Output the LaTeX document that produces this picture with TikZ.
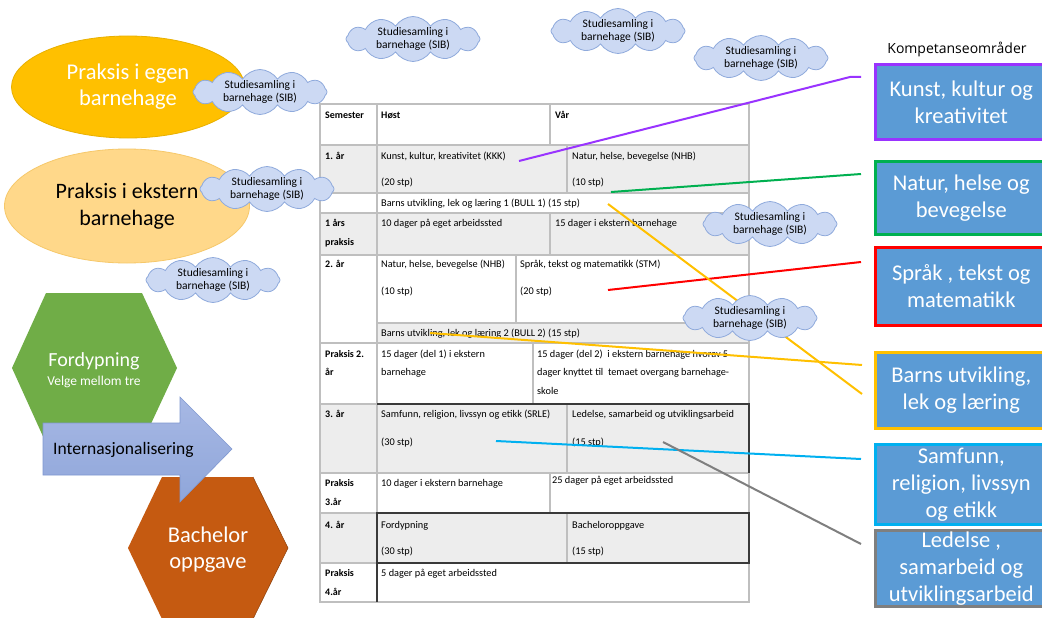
\documentclass[tikz,border=0pt]{standalone}
\usepackage{fontspec}
\setmainfont{Carlito}
\newfontfamily\kompfont{Open Sans}
\usetikzlibrary{shapes.geometric,shapes.symbols}

\definecolor{cellgray}{HTML}{EDEDED}
\definecolor{gridgray}{HTML}{BFBFBF}
\definecolor{griddark}{HTML}{3A3A3A}
\definecolor{boxblue}{HTML}{5B9BD5}
\definecolor{kpurple}{HTML}{9933FF}
\definecolor{kgreen}{HTML}{00B050}
\definecolor{kred}{HTML}{FF0000}
\definecolor{korange}{HTML}{FFC000}
\definecolor{kcyan}{HTML}{00B0F0}
\definecolor{kgray}{HTML}{7F7F7F}
\definecolor{egenfill}{HTML}{FFC000}
\definecolor{egendraw}{HTML}{E8B000}
\definecolor{eksternfill}{HTML}{FFD88A}
\definecolor{eksterndraw}{HTML}{F6C86A}
\definecolor{hexgreen}{HTML}{70AD47}
\definecolor{hexorange}{HTML}{C55A11}
\definecolor{arrowtop}{HTML}{A7B8E4}
\definecolor{arrowbot}{HTML}{8FA6DA}
\definecolor{arrowdraw}{HTML}{7F97D0}
\definecolor{cloudfill}{HTML}{CCD9F3}
\definecolor{clouddraw}{HTML}{8FAADC}

\begin{document}
\begin{tikzpicture}[x=1pt,y=-1pt,
  cell/.style={anchor=west,inner sep=0pt,text height=7.5pt,text depth=2.5pt,font=\fontsize{10.3}{12}\selectfont},
  bcell/.style={cell,font=\fontsize{10}{12}\selectfont\bfseries},
  grid/.style={draw=gridgray,line width=1.2pt},
  dgrid/.style={draw=griddark,line width=1.2pt},
  kbox/.style={draw,line width=2.6pt,fill=boxblue,text=white,align=center,font=\fontsize{22.5}{27}\selectfont},
  link/.style={line width=2pt},
  sib/.style={cloud,cloud puffs=12,cloud puff arc=115,aspect=3,minimum width=134pt,minimum height=45pt,inner sep=-3pt,
    fill=cloudfill,draw=clouddraw,line width=0.8pt,align=center,font=\fontsize{11.5}{13}\selectfont},
  hextext/.style={text=white,align=center,inner sep=0pt}
]
\useasboundingbox (0,0) rectangle (1042,618);
\fill[white] (0,0) rectangle (1042,618);

% ---------------- table backgrounds ----------------
\fill[cellgray] (320,145) rectangle (749,193);
\fill[cellgray] (320,213) rectangle (749,255);
\fill[cellgray] (377,323) rectangle (749,343);
\fill[cellgray] (320,404) rectangle (749,473);
\fill[cellgray] (320,513) rectangle (749,563);

% ---------------- table grid ----------------
\path[grid] (320,104) rectangle (749,602);
\foreach \yy in {145,193,213,255,343,404,473,513,563}
  \path[grid] (320,\yy) -- (749,\yy);
\path[grid] (377,323) -- (749,323);
\path[grid] (377,104) -- (377,602);
\path[grid] (550,104) -- (550,145);
\path[grid] (567,145) -- (567,193);
\path[grid] (550,213) -- (550,255);
\path[grid] (516,255) -- (516,323);
\path[grid] (533,343) -- (533,404);
\path[grid] (567,404) -- (567,473);
\path[grid] (550,473) -- (550,513);
\path[grid] (567,513) -- (567,563);
% dark frames
\path[dgrid] (377,404) -- (749,404) -- (749,473);
\path[dgrid] (377,513) rectangle (749,563);
\path[dgrid] (377,563) -- (377,602);

% ---------------- table texts ----------------
\node[bcell] (h0) at (325,116) {Semester};
\node[bcell] (h1) at (381,116) {Høst};
\node[bcell] (h2) at (555,116) {Vår};

\node[bcell] (r1) at (325,157) {1. år};
\node[cell] (r1a) at (381,157) {Kunst, kultur, kreativitet (KKK)};
\node[cell] (r1b) at (381,183) {(20 stp)};
\node[cell] (r1c) at (572,157) {Natur, helse, bevegelse (NHB)};
\node[cell] (r1d) at (572,183) {(10 stp)};
\node[cell] (r1e) at (381,204) {Barns utvikling, lek og læring 1 (BULL 1) (15 stp)};

\node[bcell] (p1) at (325,224) {1 års};
\node[bcell] (p1b) at (325,243) {praksis};
\node[cell] (p1c) at (381,224) {10 dager på eget arbeidssted};
\node[cell] (p1d) at (555,224) {15 dager i ekstern barnehage};

\node[bcell] (r2) at (325,265) {2. år};
\node[cell] (r2a) at (381,265) {Natur, helse, bevegelse (NHB)};
\node[cell] (r2b) at (381,292) {(10 stp)};
\node[cell] (r2c) at (520,265) {Språk, tekst og matematikk (STM)};
\node[cell] (r2d) at (520,292) {(20 stp)};
\node[cell] (r2e) at (381,334) {Barns utvikling, lek og læring 2 (BULL 2) (15 stp)};

\node[bcell] (p2) at (325,355) {Praksis 2.};
\node[bcell] (p2b) at (325,373) {år};
\node[cell] (p2c) at (381,355) {15 dager (del 1) i ekstern};
\node[cell] (p2d) at (381,373) {barnehage};
\node[cell] (p2e) at (537,355) {15 dager (del 2)\ \ i ekstern barnehage hvorav 5};
\node[cell] (p2f) at (537,373) {dager knyttet til\ \ temaet overgang barnehage-};
\node[cell] (p2g) at (537,392) {skole};

\node[bcell] (r3) at (325,415) {3. år};
\node[cell] (r3a) at (381,415) {Samfunn, religion, livssyn og etikk (SRLE)};
\node[cell] (r3b) at (381,443) {(30 stp)};
\node[cell] (r3c) at (572,415) {Ledelse, samarbeid og utviklingsarbeid};
\node[cell] (r3d) at (572,443) {(15 stp)};

\node[bcell] (p3) at (325,484) {Praksis};
\node[bcell] (p3b) at (325,503) {3.år};
\node[cell] (p3c) at (381,484) {10 dager i ekstern barnehage};
\node[cell] (p3d) at (552,481) {25 dager på eget arbeidssted};

\node[bcell] (r4) at (325,526) {4. år};
\node[cell] (r4a) at (381,526) {Fordypning};
\node[cell] (r4b) at (381,552) {(30 stp)};
\node[cell] (r4c) at (572,526) {Bacheloroppgave};
\node[cell] (r4d) at (572,552) {(15 stp)};

\node[bcell] (p4) at (325,574) {Praksis};
\node[bcell] (p4b) at (325,593) {4.år};
\node[cell] (p4c) at (381,574) {5 dager på eget arbeidssted};

% ---------------- competence boxes ----------------
\node[kbox,draw=kpurple,anchor=north west,minimum width=172pt,minimum height=75pt] (k1) at (874,63) {Kunst, kultur og\\kreativitet};
\node[kbox,draw=kgreen,anchor=north west,minimum width=172pt,minimum height=73pt] (k2) at (874,160) {Natur, helse og\\bevegelse};
\node[kbox,draw=kred,anchor=north west,minimum width=172pt,minimum height=78pt] (k3) at (874,246) {Språk , tekst og\\matematikk};
\node[kbox,draw=korange,anchor=north west,minimum width=172pt,minimum height=76pt] (k4) at (874,351) {Barns utvikling,\\lek og læring};
\node[kbox,draw=kcyan,anchor=north west,minimum width=172pt,minimum height=80pt,inner ysep=0pt] (k5) at (874,443) {Samfunn,\\religion, livssyn\\og etikk};
\node[kbox,draw=kgray,anchor=north west,minimum width=172pt,minimum height=76pt,inner ysep=0pt] (k6) at (874,529) {Ledelse ,\\samarbeid og\\utviklingsarbeid};
\node[inner sep=0pt,font=\kompfont\fontsize{14}{16}\selectfont] (komp) at (957,49) {Kompetanseområder};

% ---------------- connectors ----------------
\coordinate (s1) at (519,161); \coordinate (m1) at (850,77); \coordinate (e1) at (861,77);
\coordinate (s2) at (611,192); \coordinate (e2) at (861,174);
\coordinate (s3) at (608,290); \coordinate (e3) at (861,262);
\coordinate (s4) at (608,204); \coordinate (e4) at (862,394);
\coordinate (s5) at (430,333); \coordinate (e5) at (862,365);
\coordinate (s6) at (496,441); \coordinate (e6) at (861,459);
\coordinate (s7) at (663,442); \coordinate (e7) at (861,544);
\draw[link,kpurple] (s1) -- (m1) -- (e1);
\draw[link,kgreen] (s2) -- (e2);
\draw[link,kred] (s3) -- (e3);
\draw[link,korange] (s4) -- (e4);
\draw[link,korange] (s5) -- (e5);
\draw[link,kcyan] (s6) -- (e6);
\draw[link,kgray] (s7) -- (e7);

% ---------------- ellipses ----------------
\node[ellipse,fill=egenfill,draw=egendraw,line width=0.8pt,minimum width=233pt,minimum height=102pt,inner sep=0pt,
  text=white,align=center,font=\fontsize{22.5}{26}\selectfont] (egen) at (128,87) {Praksis i egen\\barnehage};
\node[ellipse,fill=eksternfill,draw=eksterndraw,line width=0.8pt,minimum width=245pt,minimum height=114pt,inner sep=0pt,
  align=center,font=\fontsize{22}{27}\selectfont] (ekst) at (127,206) {Praksis i ekstern\\barnehage};

% ---------------- hexagons and arrow ----------------
\fill[hexgreen] (12,368) -- (46,293) -- (142,293) -- (177,368) -- (142,443) -- (46,443) -- cycle;
\node[hextext,font=\fontsize{20}{22}\selectfont] (ford) at (94,361) {Fordypning};
\node[hextext,font=\fontsize{13.5}{15}\selectfont] (velg) at (94,382) {Velge mellom tre};

\fill[hexorange] (128,548) -- (162,477) -- (253,477) -- (288,548) -- (253,619) -- (162,619) -- cycle;
\draw[hexorange!70!black,line width=0.5pt] (253,477) -- (288,548) -- (253,619);
\node[hextext,align=center,font=\fontsize{22.5}{26}\selectfont] (bach) at (208,550) {Bachelor\\oppgave};

\shade[top color=arrowtop,bottom color=arrowbot,draw=arrowdraw,line width=0.6pt]
  (43,423) -- (180,423) -- (180,397) -- (232,449) -- (180,502) -- (180,475) -- (43,475) -- cycle;
\node[anchor=west,inner sep=0pt,font=\fontsize{17.5}{19}\selectfont] (intl) at (53,450) {Internasjonalisering};

% ---------------- clouds ----------------
\node[sib] (c1) at (413,39) {Studiesamling i\\barnehage (SIB)};
\node[sib] (c2) at (618,31) {Studiesamling i\\barnehage (SIB)};
\node[sib] (c3) at (761,58) {Studiesamling i\\barnehage (SIB)};
\node[sib] (c4) at (260,92) {Studiesamling i\\barnehage (SIB)};
\node[sib] (c5) at (267,189) {Studiesamling i\\barnehage (SIB)};
\node[sib] (c6) at (213,280) {Studiesamling i\\barnehage (SIB)};
\node[sib] (c7) at (770,224) {Studiesamling i\\barnehage (SIB)};
\node[sib] (c8) at (750,318) {Studiesamling i\\barnehage (SIB)};
\end{tikzpicture}
\end{document}
